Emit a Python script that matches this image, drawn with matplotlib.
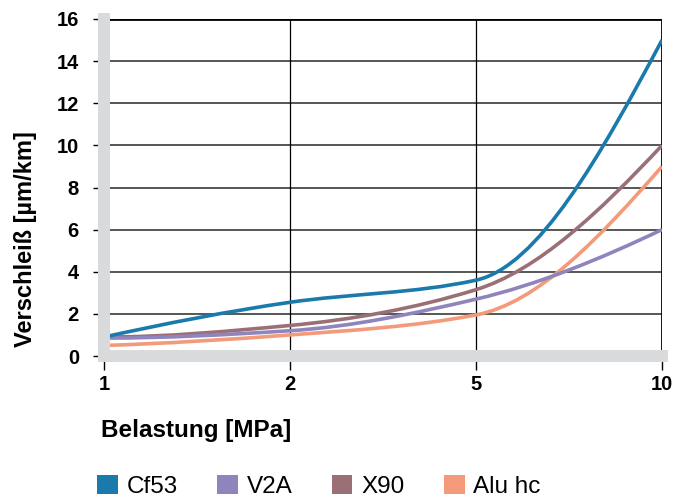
import matplotlib
matplotlib.use('Agg')
from matplotlib import pyplot as plt
from matplotlib.path import Path
from matplotlib.patches import PathPatch, Patch

plt.rcParams['font.family'] = ['Liberation Sans', 'DejaVu Sans']

loads = ['1', '2', '5', '10']
series = ['Cf53', 'V2A', 'X90', 'Alu hc']
cf53 = [0.9, 2.55, 3.6, 15.0]
v2a = [0.85, 1.2, 2.7, 6.0]
x90 = [0.9, 1.45, 3.15, 10.0]
alu = [0.5, 1.0, 1.95, 9.0]
colors = ['#1a7aab', '#8f84bb', '#9a7076', '#f39a7a']
y_ticks = [0, 2, 4, 6, 8, 10, 12, 14, 16]


def smooth_path(ys):
    # monotone (pchip-style) bezier through the points, unit x spacing
    n = len(ys)
    d = [ys[i + 1] - ys[i] for i in range(n - 1)]
    m = [0.0] * n
    for i in range(1, n - 1):
        if d[i - 1] * d[i] > 0:
            m[i] = 2 / (1 / d[i - 1] + 1 / d[i])
    m[0] = (3 * d[0] - d[1]) / 2
    m[-1] = (3 * d[-1] - d[-2]) / 2
    if m[0] * d[0] < 0:
        m[0] = 0
    if m[-1] * d[-1] < 0:
        m[-1] = 0
    verts = [(0, ys[0])]
    codes = [Path.MOVETO]
    for i in range(n - 1):
        verts += [(i + 1 / 3, ys[i] + m[i] / 3),
                  (i + 2 / 3, ys[i + 1] - m[i + 1] / 3),
                  (i + 1, ys[i + 1])]
        codes += [Path.CURVE4] * 3
    return Path(verts, codes)


fig = plt.figure(figsize=(6.78, 5.01), dpi=100)
ax = fig.add_axes([104 / 678, 1 - 356 / 501, 558 / 678, 337 / 501])
ax.set_xlim(0, len(loads) - 1)
ax.set_ylim(0, 16)
for s in ax.spines.values():
    s.set_visible(False)

for y in y_ticks[1:-1]:
    ax.axhline(y, color='#3a3a3a', lw=1.2, zorder=1)
ax.axhline(16, color='black', lw=2.0, zorder=1)
for x in [1, 2]:
    ax.axvline(x, color='black', lw=0.9, zorder=1)
ax.axvline(3, color='black', lw=2.0, zorder=1)

pos = list(range(len(loads)))
for vals, c in zip([cf53, v2a, x90, alu][::-1], colors[::-1]):
    ax.add_patch(PathPatch(smooth_path(vals), fill=False, edgecolor=c,
                           lw=2.6, zorder=2, capstyle='butt'))

# grey axis bands
ax.axvline(0, color='#d9dadb', lw=8.6, zorder=3, clip_on=False)
ax.axhline(0, color='#d9dadb', lw=8.6, zorder=3, clip_on=False)

ax.set_xticks(pos)
ax.set_xticklabels(loads)
ax.set_yticks(y_ticks)
ax.tick_params(axis='y', length=8, width=1.0, pad=10, labelsize=14.5)
ax.tick_params(axis='x', length=10, width=1.0, pad=4, labelsize=14.5)
for lab in ax.get_xticklabels() + ax.get_yticklabels():
    lab.set_fontweight('bold')

fig.text(26 / 678, 1 - 239 / 501, 'Verschleiß [µm/km]', rotation=90,
         ha='center', va='center', fontsize=17, fontweight='bold')
fig.text(101 / 678, 1 - 431 / 501, 'Belastung [MPa]', ha='left', va='center',
         fontsize=17.5, fontweight='bold')

handles = [Patch(facecolor=c, edgecolor='none') for c in colors]
fig.legend(handles, series, loc='lower left', bbox_to_anchor=(97 / 678, 0.006),
           ncol=4, frameon=False, fontsize=17.5, handlelength=0.86,
           handleheight=0.86, handletextpad=0.37, columnspacing=1.6,
           borderpad=0.0, borderaxespad=0.0)

plt.savefig('out.png', dpi=100)
